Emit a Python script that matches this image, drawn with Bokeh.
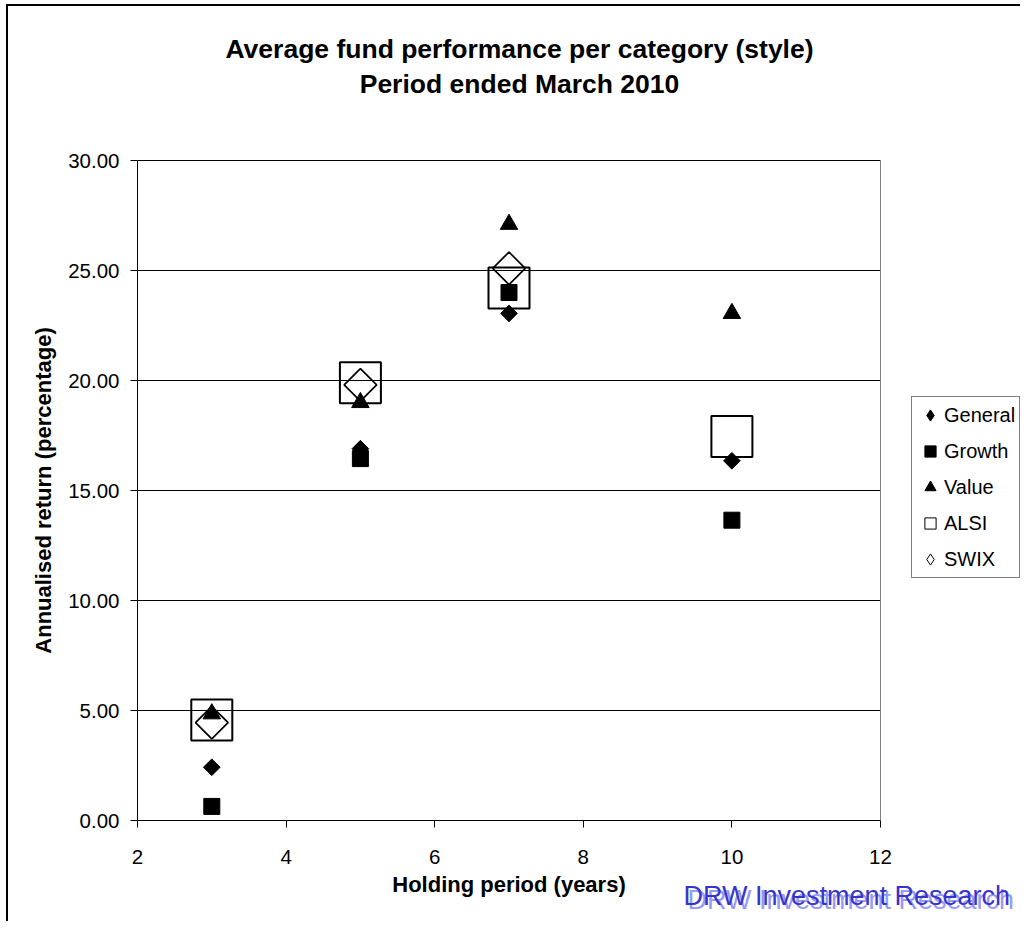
import math
from bokeh.plotting import figure
from bokeh.models import (Range1d, FixedTicker, PrintfTickFormatter, Label,
                          Legend, LegendItem, LinearAxis, Grid)
from bokeh.embed import file_html
from bokeh.resources import INLINE

# ---------------- data ----------------
holding_years = [3, 5, 7, 10]
general = [2.42, 16.90, 23.05, 16.35]
growth = [0.64, 16.45, 24.00, 13.65]
value_style = [4.85, 19.00, 27.10, 23.05]
alsi = [4.57, 19.90, 24.20, 17.45]
swix_years = [3, 5, 7]
swix = [4.45, 19.80, 25.10]

x_ticks = [2, 4, 6, 8, 10, 12]
y_ticks = [0, 5, 10, 15, 20, 25, 30]

title_lines = ["Average fund performance per category (style)",
               "Period ended March 2010"]
x_label = "Holding period (years)"
y_label = "Annualised return (percentage)"
watermark = "DRW Investment Research"

FONT = "Liberation Sans"

# ---------------- layout (pixels) ----------------
W, H = 1020, 921
PX_L, PX_R, PX_T, PX_B = 137, 880, 160, 820      # plot-area edges on the canvas
X0, X1 = x_ticks[0], x_ticks[-1]
Y0, Y1 = y_ticks[0], y_ticks[-1]
ux = (X1 - X0) / (PX_R - PX_L)
uy = (Y1 - Y0) / (PX_B - PX_T)
x_range = Range1d(X0 - PX_L * ux, X1 + (W - PX_R) * ux)
y_range = Range1d(Y0 - (H - PX_B) * uy, Y1 + PX_T * uy)

p = figure(width=W, height=H, output_backend="svg", toolbar_location=None,
           x_range=x_range, y_range=y_range,
           x_axis_location=None, y_axis_location=None,
           min_border_left=0, min_border_right=0,
           min_border_top=0, min_border_bottom=0)
p.styles = {"box-shadow": "inset 6px 4px 0 0 #fff, inset 8px 6px 0 0 #000"}
p.background_fill_alpha = 0
p.border_fill_alpha = 0
p.outline_line_color = None
p.xgrid.visible = False
p.ygrid.visible = False

# ---------------- axes ----------------
def style_axis(ax):
    ax.axis_line_color = "black"
    ax.major_tick_line_color = "black"
    ax.major_tick_in = 0
    ax.major_tick_out = 7
    ax.minor_tick_line_color = None
    ax.major_label_text_font = FONT
    ax.major_label_text_font_size = "20.5px"
    ax.major_label_text_color = "black"
    ax.axis_label_text_font = FONT
    ax.axis_label_text_font_size = "22px"
    ax.axis_label_text_font_style = "bold"
    ax.axis_label_text_color = "black"


xaxis = LinearAxis(fixed_location=Y0, bounds=(X0, X1),
                   ticker=FixedTicker(ticks=x_ticks), axis_label=x_label,
                   major_label_standoff=22, axis_label_standoff=5)
style_axis(xaxis)
p.add_layout(xaxis, "below")

yaxis = LinearAxis(fixed_location=X0, bounds=(Y0, Y1),
                   ticker=FixedTicker(ticks=y_ticks),
                   formatter=PrintfTickFormatter(format="%.2f"),
                   axis_label=y_label,
                   major_label_standoff=11, axis_label_standoff=9)
style_axis(yaxis)
p.add_layout(yaxis, "left")

# grey plot-area border on the right
right_edge = LinearAxis(fixed_location=X1, bounds=(Y0, Y1),
                        ticker=FixedTicker(ticks=[]),
                        axis_line_color="#808080",
                        major_tick_line_color=None, minor_tick_line_color=None,
                        major_label_text_font_size="0px")
p.add_layout(right_edge, "right")

# horizontal grid lines limited to the plot area
if "cross_bounds" in Grid.properties():
    grid = Grid(dimension=1, ticker=FixedTicker(ticks=y_ticks),
                grid_line_color="black", grid_line_width=1,
                cross_bounds=(X0, X1))
    p.add_layout(grid)
else:
    p.segment(x0=[X0] * len(y_ticks), x1=[X1] * len(y_ticks),
              y0=y_ticks, y1=y_ticks, line_color="black", line_width=1)

# ---------------- legend proxies (size 0, hidden under the real marks) ----------------
lg_general = p.scatter(holding_years, general, marker="diamond", size=0,
                       fill_color="black", line_color="black")
lg_growth = p.scatter(holding_years, growth, marker="square", size=0,
                      fill_color="black", line_color="black")
lg_value = p.scatter(holding_years, value_style, marker="triangle", size=0,
                     fill_color="black", line_color="black")
lg_alsi = p.scatter(holding_years, alsi, marker="square", size=0,
                    fill_color=None, line_color="black", line_width=1)
lg_swix = p.scatter(swix_years, swix, marker="diamond", size=0,
                    fill_color=None, line_color="black", line_width=1)

# ---------------- series ----------------
p.scatter(holding_years, general, marker="square", angle=math.pi / 4, size=11.8,
          fill_color="black", line_color="black", line_width=1)
p.scatter(holding_years, growth, marker="square", size=16,
          fill_color="black", line_color="black", line_width=1)
p.scatter(holding_years, value_style, marker="triangle", size=17.5,
          fill_color="black", line_color="black", line_width=1)
p.scatter(holding_years, alsi, marker="square", size=41,
          fill_color=None, line_color="black", line_width=2)
p.scatter(swix_years, swix, marker="square", angle=math.pi / 4, size=23,
          fill_color=None, line_color="black", line_width=1.7)

legend = Legend(items=[
    LegendItem(label="General", renderers=[lg_general]),
    LegendItem(label="Growth", renderers=[lg_growth]),
    LegendItem(label="Value", renderers=[lg_value]),
    LegendItem(label="ALSI", renderers=[lg_alsi]),
    LegendItem(label="SWIX", renderers=[lg_swix]),
], location=(911, H - 578))
legend.label_text_font = FONT
legend.label_text_font_size = "20px"
legend.label_text_color = "black"
legend.glyph_width = 28
legend.glyph_height = 28
legend.spacing = 8
legend.padding = 4
legend.margin = 0
legend.label_standoff = 0
legend.border_line_color = "black"
legend.border_line_width = 1
legend.background_fill_color = "white"
legend.background_fill_alpha = 1
p.add_layout(legend, "center")


def canvas_label(**kw):
    try:
        return Label(x_units="canvas", y_units="canvas", **kw)
    except Exception:
        return Label(x_units="screen", y_units="screen", **kw)


# ---------------- titles ----------------
for line, base_y in zip(title_lines, [48, 83]):
    p.add_layout(canvas_label(x=519, y=base_y, text=line, text_align="center",
                              text_baseline="alphabetic", text_font=FONT,
                              text_font_size="26.5px", text_font_style="bold",
                              text_color="black"))

# ---------------- watermark ----------------
p.add_layout(canvas_label(x=687, y=899, text=watermark, text_align="left",
                          text_baseline="alphabetic", text_font=FONT,
                          text_font_size="27px", text_color="#9a9af2"))
p.add_layout(canvas_label(x=683, y=895, text=watermark, text_align="left",
                          text_baseline="alphabetic", text_font=FONT,
                          text_font_size="27px", text_color="#3535cc"))

open("out.html", "w").write(file_html(p, INLINE))
